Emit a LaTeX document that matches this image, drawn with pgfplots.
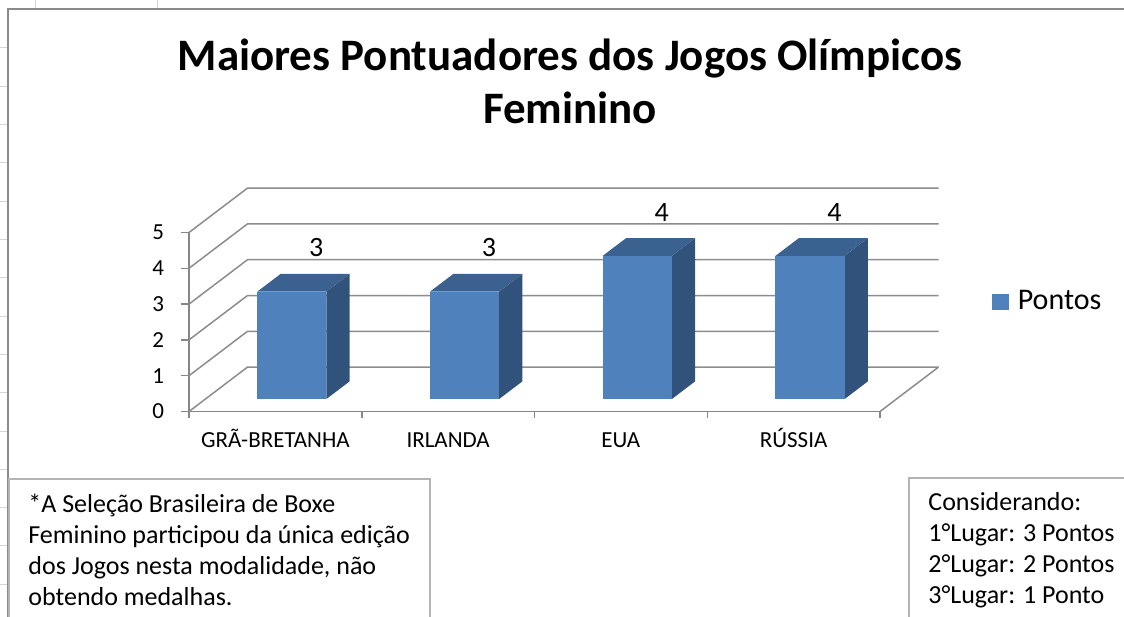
\documentclass[border=0pt]{standalone}
\usepackage{pgfplots}
\usepackage{pgfplotstable}
\usepackage{fontspec}
\setmainfont{Carlito}
\pgfplotsset{compat=1.18}
\definecolor{barfront}{HTML}{4F81BD}
\definecolor{barside}{HTML}{31527A}
\definecolor{bartop}{HTML}{3B6190}
\definecolor{gridgray}{HTML}{8C8C8C}
\definecolor{axisgray}{HTML}{868686}
\definecolor{boxgray}{HTML}{B4B4B4}
\definecolor{bordergray}{HTML}{8A8A8A}
\definecolor{stubgray}{HTML}{D4D4D4}

\pgfplotstableread{
x v
0.5 3
1.5 3
2.5 4
3.5 4
}\datatable

\newcommand{\Dx}{0.3386}
\newcommand{\Dy}{1.24}
\newcommand{\fa}{0.28}
\newcommand{\fb}{0.68}
\newcommand{\hw}{0.2}

\begin{document}
\begin{tikzpicture}[x=0.5pt,y=0.5pt]
\begin{axis}[
  x=86.375pt, y=17.9pt,
  xmin=0, xmax=4, ymin=0, ymax=5,
  enlargelimits=false, clip=false,
  axis lines=left,
  axis line style={-, draw=axisgray, line width=0.75pt},
  tick align=outside,
  ytick={0,1,2,3,4,5},
  xtick={0.5,1.5,2.5,3.5},
  xticklabels={GRÃ-BRETANHA, IRLANDA, EUA, RÚSSIA},
  minor xtick={0,1,2,3,4},
  major x tick style={draw=none},
  tick style={axisgray, line width=0.75pt},
  major tick length=4pt, minor tick length=3pt,
  /pgf/number format/assume math mode=true,
  yticklabel style={anchor=east, xshift=-5pt, font=\fontsize{11.5}{13}\selectfont, text=black},
  xticklabel style={anchor=base, yshift=-13.75pt, font=\fontsize{11.5}{13}\selectfont, text=black},
  legend style={at={(axis cs:4.646,3.07)}, anchor=west, draw=none, fill=none,
    font=\fontsize{15}{17}\selectfont, inner sep=0pt},
]
% walls and floor
\addplot[gridgray, line width=0.75pt, forget plot] coordinates {(0,0) (0.3386,1.24) (4.3386,1.24)};
\addplot[gridgray, line width=0.75pt, forget plot] coordinates {(0,1) (0.3386,2.24) (4.3386,2.24)};
\addplot[gridgray, line width=0.75pt, forget plot] coordinates {(0,2) (0.3386,3.24) (4.3386,3.24)};
\addplot[gridgray, line width=0.75pt, forget plot] coordinates {(0,3) (0.3386,4.24) (4.3386,4.24)};
\addplot[gridgray, line width=0.75pt, forget plot] coordinates {(0,4) (0.3386,5.24) (4.3386,5.24)};
\addplot[gridgray, line width=0.75pt, forget plot] coordinates {(0,5) (0.3386,6.24) (4.3386,6.24)};
\addplot[gridgray, line width=0.75pt, forget plot] coordinates {(4,0) (4.3386,1.24)};
% bars
\pgfplotsinvokeforeach{0,1,2,3}{
  \pgfplotstablegetelem{#1}{x}\of\datatable \pgfmathsetmacro\cx{\pgfplotsretval}
  \pgfplotstablegetelem{#1}{v}\of\datatable \pgfmathsetmacro\cv{\pgfplotsretval}
  \pgfmathsetmacro\xl{\cx-\hw+\fa*\Dx}
  \pgfmathsetmacro\xr{\cx+\hw+\fa*\Dx}
  \pgfmathsetmacro\xlb{\cx-\hw+\fb*\Dx}
  \pgfmathsetmacro\xrb{\cx+\hw+\fb*\Dx}
  \pgfmathsetmacro\ya{\fa*\Dy}
  \pgfmathsetmacro\yb{\fb*\Dy}
  \pgfmathsetmacro\yat{\ya+\cv}
  \pgfmathsetmacro\ybt{\yb+\cv}
  \edef\temp{\noexpand\addplot[fill=barside, draw=none, forget plot] coordinates {(\xr,\ya) (\xrb,\yb) (\xrb,\ybt) (\xr,\yat)};
  \noexpand\addplot[fill=bartop, draw=none, forget plot] coordinates {(\xl,\yat) (\xr,\yat) (\xrb,\ybt) (\xlb,\ybt)};
  \noexpand\addplot[fill=barfront, draw=none, forget plot] coordinates {(\xl,\ya) (\xr,\ya) (\xr,\yat) (\xl,\yat)};}
  \temp
}
% value labels
\addplot[draw=none, mark=none, forget plot, nodes near coords, point meta=explicit,
  every node near coord/.append style={anchor=center, font=\fontsize{14}{16}\selectfont, text=black}]
  table[x expr=\thisrow{x}+0.236, y expr=\thisrow{v}+1.57, meta=v] {\datatable};
\addlegendimage{legend image code/.code={\fill[barfront] (0pt,-3.75pt) rectangle (8pt,3.75pt); \path (10.5pt,0pt);}}
\addlegendentry{Pontos}
\coordinate (O) at (axis cs:0,0);
\end{axis}
\pgfresetboundingbox
\begin{scope}[shift={(O)}]
\begin{scope}[shift={(-189,-204.5)}]
\useasboundingbox (0,0) rectangle (1124,616);
% spreadsheet stubs
\foreach \k in {0,...,15} {
  \draw[stubgray, line width=0.5pt] (0,{616-(48+38.3*\k)}) -- (7,{616-(48+38.3*\k)});
}
\draw[stubgray, line width=0.5pt] (36,616) -- (36,608);
\draw[stubgray, line width=0.5pt] (158,616) -- (158,608);
% outer border
\draw[bordergray, line width=1pt] (8,-5) -- (8,607) -- (1130,607);
% note boxes
\draw[boxgray, line width=0.75pt] (9,-5) -- (9,137) -- (430,137) -- (430,-5);
\draw[boxgray, line width=0.75pt] (909,-5) -- (909,138) -- (1130,138);
% title
\node[anchor=base, inner sep=0pt, font=\fontsize{22.5}{26}\selectfont\bfseries] at (570,545.3) {Maiores Pontuadores dos Jogos Olímpicos};
\node[anchor=base, inner sep=0pt, font=\fontsize{22.5}{26}\selectfont\bfseries] at (570,492) {Feminino};
% box texts
\begin{scope}[every node/.style={anchor=base west, inner sep=0pt, font=\fontsize{13}{15}\selectfont}]
\node at (28,104) {*A Seleção Brasileira de Boxe};
\node at (28,73) {Feminino participou da única edição};
\node at (28,42) {dos Jogos nesta modalidade, não};
\node at (28,11) {obtendo medalhas.};
\node at (928,106) {Considerando:};
\node at (928,75) {1°Lugar: 3 Pontos};
\node at (928,44) {2°Lugar: 2 Pontos};
\node at (928,13) {3°Lugar: 1 Ponto};
\end{scope}
\end{scope}
\end{scope}
\end{tikzpicture}
\end{document}
